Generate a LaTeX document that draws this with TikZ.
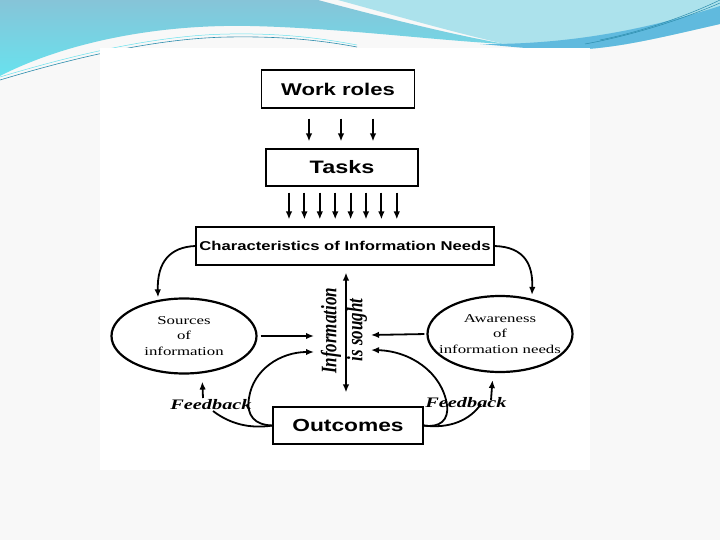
\documentclass[tikz,border=0pt]{standalone}
\usepackage{fontspec}
\usepackage{graphicx}
\usetikzlibrary{arrows.meta,positioning,shapes.geometric,calc}
\setmainfont{Liberation Serif}
\newfontfamily\boxfont[FakeStretch=1.3]{Liberation Sans}
\newfontfamily\ovalfont[FakeStretch=1.4]{Liberation Serif}
\definecolor{slideCyan}{RGB}{104,226,238}
\definecolor{slideBlue}{RGB}{134,196,216}
\definecolor{slideLight}{RGB}{172,226,236}
\definecolor{slideDeep}{RGB}{96,186,222}
\definecolor{slideLine}{RGB}{44,140,172}
\definecolor{slideBack}{RGB}{248,248,248}
\newcommand{\fbmark}[1]{{\ovalfont\fontsize{14.5}{16}\selectfont\bfseries\itshape #1}}
\newcommand{\tallword}[1]{\scalebox{1}[1.3]{#1}}

\tikzset{
  roleBox/.style={rectangle, draw=black, line width=1.1pt, inner sep=0pt,
                  font=\boxfont\bfseries\fontsize{#1}{#1}\selectfont},
  needOval/.style={ellipse, draw=black, line width=2.2pt, minimum width=145pt,
                   minimum height=75pt, inner sep=0pt, align=center,
                   font=\ovalfont\fontsize{12}{15.5}\selectfont},
  flowArrow/.style={-{Latex[length=8pt,width=6.5pt]}, line width=1.8pt},
  twoWay/.style={{Latex[length=8pt,width=6.5pt]}-{Latex[length=8pt,width=6.5pt]}, line width=1.8pt},
  curveLine/.style={line width=1.8pt},
  seekText/.style={rotate=90, inner sep=0pt, font=\bfseries\itshape\fontsize{17}{18}\selectfont}
}

\begin{document}
\begin{tikzpicture}[x=1pt, y=-1pt]
  \fill[slideBack] (0,0) rectangle (720,540);
  \useasboundingbox (0,0) rectangle (720,540);

  % slide banner
  \shade[top color=slideBlue, bottom color=slideCyan]
    (0,0) -- (318,0) .. controls (400,22) and (460,36) .. (505,44)
    .. controls (430,40) and (340,28) .. (250,26)
    .. controls (150,24) and (60,45) .. (0,76) -- cycle;
  \fill[slideLight] (338,0) -- (720,0) -- (720,24)
    .. controls (650,40) and (610,50) .. (560,50)
    .. controls (540,49) and (520,47) .. (505,44)
    .. controls (460,34) and (400,17) .. (338,0) -- cycle;
  \fill[slideDeep] (480,44) .. controls (580,45) and (660,25) .. (720,6)
    -- (720,24) .. controls (650,40) and (610,50) .. (560,50)
    .. controls (530,49) and (505,46) .. (480,44) -- cycle;
  \draw[slideLine, line width=0.5pt] (585,44) .. controls (640,34) and (690,16) .. (720,3);
  \draw[slideLine, line width=0.5pt] (600,40) .. controls (650,30) and (695,12) .. (720,0);
  \draw[slideLine, line width=0.6pt] (0,80) .. controls (60,62) and (150,38) .. (230,37)
    .. controls (290,36) and (330,42) .. (357,47);
  \draw[slideCyan, line width=0.5pt] (0,77) .. controls (60,59) and (150,35) .. (230,34)
    .. controls (290,33) and (330,40) .. (357,45);

  % picture area
  \fill[white] (100,48) rectangle (590,470);

  \node[roleBox=17, minimum width=153pt, minimum height=38pt] (workroles) at (338,89) {Work roles};
  \node[roleBox=18, minimum width=152pt, minimum height=37pt] (tasks) at (342,167.5) {Tasks};
  \node[roleBox=12.8, minimum width=298pt, minimum height=38pt] (charneeds) at (345,246) {Characteristics of Information Needs};
  \node[roleBox=17.5, minimum width=150pt, minimum height=37pt] (outcomes) at (348,425.5) {Outcomes};
  \node[needOval] (sources) at (184,336) {Sources\\of\\information};
  \node[needOval, minimum height=76pt, inner xsep=-11pt] (awareness) at (500,334) {Awareness\\of\\information needs};

  \node[seekText] (infolabel) at (331,331) {\tallword{Information}};
  \node[seekText] (soughtlabel) at (357,330) {\tallword{is sought}};
  \node (fbtextL) at (211,405) {\fbmark{Feedback}};
  \node (fbtextR) at (466,403) {\fbmark{Feedback}};

  \coordinate (seekL) at (314,336);
  \coordinate (seekLlow) at (314,352);
  \coordinate (seekR) at (371,335);
  \coordinate (seekRlow) at (371,350);
  \coordinate (fbL) at (213,411);
  \coordinate (fbR) at (481,404);
  \coordinate (fbupL) at (203,398);
  \coordinate (fbupR) at (491,400);

  % downward flow
  \foreach \dx in {-29,3,35}
    \draw[flowArrow, line width=2pt, shorten <=10pt, shorten >=7pt]
      ([xshift=\dx pt]workroles.south) -- ([xshift=\dx pt]workroles.south |- tasks.north);
  \foreach \i in {0,...,7}
    \draw[flowArrow, line width=2pt, shorten <=6pt, shorten >=7pt]
      ([xshift={-53pt+\i*15.4pt}]tasks.south) -- ([xshift={-53pt+\i*15.4pt}]tasks.south |- charneeds.north);

  % needs to the two ovals
  \draw[flowArrow] (charneeds.west) .. controls (170,247) and (157,262) .. ([xshift=-26pt]sources.north);
  \draw[flowArrow] (charneeds.east) .. controls (525,247) and (533,265) .. ([xshift=32pt]awareness.north);

  % seeking
  \draw[flowArrow, shorten <=3pt] (sources.east) -- (seekL);
  \draw[flowArrow, shorten <=2pt] (awareness.west) -- (seekR);
  \draw[twoWay, shorten <=7pt, shorten >=14pt]
    ([xshift=1pt]charneeds.south) -- ([xshift=1pt]charneeds.south |- outcomes.north);

  % outcomes and feedback
  \draw[flowArrow] (outcomes.west) .. controls (255,425) and (246,416) .. (249,398)
    .. controls (253,370) and (280,352) .. (seekLlow);
  \draw[curveLine] (fbL) .. controls (230,424) and (250,429) .. (outcomes.west);
  \draw[flowArrow, shorten >=7pt] (fbupL) -- ([xshift=18pt]sources.south);
  \draw[flowArrow] (outcomes.east) .. controls (440,428) and (449,420) .. (447,405)
    .. controls (442,372) and (410,351) .. (seekRlow);
  \draw[curveLine] (outcomes.east) .. controls (450,429) and (470,420) .. (fbR);
  \draw[flowArrow, shorten >=7pt] (fbupR) -- ([xshift=-7pt]awareness.south);
\end{tikzpicture}
\end{document}
